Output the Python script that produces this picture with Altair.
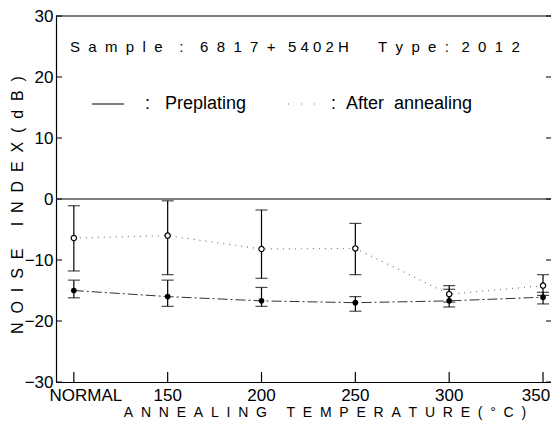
import altair as alt
import pandas as pd

# ---------------- data ----------------
categories = ["NORMAL", "150", "200", "250", "300", "350"]
x_index = [0, 1, 2, 3, 4, 5]
pre_mean = [-15.0, -16.0, -16.7, -17.0, -16.7, -16.1]
pre_hi = [-13.3, -13.3, -14.5, -16.0, -14.8, -15.3]
pre_lo = [-16.2, -17.6, -17.6, -18.4, -17.7, -17.2]
ann_mean = [-6.4, -6.0, -8.2, -8.1, -15.6, -14.2]
ann_hi = [-1.1, -0.3, -1.8, -4.0, -14.2, -12.4]
ann_lo = [-11.8, -12.4, -13.0, -12.4, -16.9, -15.8]
y_ticks = [-30, -20, -10, 0, 10, 20, 30]

FONT = "Liberation Sans"
NB = "\u00a0"
W, H = 495, 366


def sp(word, gap=2):
    return (NB * gap).join(list(word))


sample_text = (sp("Sample") + NB * 4 + ":" + NB * 4 + sp("6817") + NB * 2 + "+" + NB * 3
               + sp("5402H", 1) + NB * 7 + sp("Type") + NB * 2 + ":" + NB * 3 + sp("2012"))
x_title = sp("ANNEALING") + NB * 5 + sp("TEMPERATURE(°C)")
y_title = sp("NOISE") + NB * 5 + sp("INDEX(dB)")

df = pd.DataFrame({
    "x": x_index, "cat": categories,
    "pre": pre_mean, "pre_hi": pre_hi, "pre_lo": pre_lo,
    "ann": ann_mean, "ann_hi": ann_hi, "ann_lo": ann_lo,
})
caps = pd.DataFrame({
    "x": x_index * 4,
    "v": pre_hi + pre_lo + ann_hi + ann_lo,
})
yt = pd.DataFrame({"t": y_ticks})
one = pd.DataFrame({"k": [0]})
zero = pd.DataFrame({"z": [0]})

xs = alt.Scale(domain=[-0.19, 5.085], nice=False, zero=False)
ys = alt.Scale(domain=[-30, 30], nice=False, zero=False)

x_axis = alt.Axis(values=x_index, labels=False, ticks=False, grid=False,
                  domain=True, domainColor="black", domainWidth=1.2, title=None)
y_axis = alt.Axis(values=y_ticks, ticks=False, grid=False, domain=True,
                  domainColor="black", domainWidth=1.2, title=None,
                  labelFont=FONT, labelFontSize=17, labelColor="black",
                  labelPadding=3, labelFlush=False)


def X(field="x:Q"):
    return alt.X(field, scale=xs, axis=x_axis)


def Y(field):
    return alt.Y(field, scale=ys, axis=y_axis)


base = alt.Chart(df)

pre_line = base.mark_line(color="#333333", strokeWidth=1, strokeDash=[10, 3, 2, 3]).encode(
    x=X(), y=Y("pre:Q"))
ann_line = base.mark_line(color="#777777", strokeWidth=1.2, strokeDash=[1, 5]).encode(
    x=X(), y=Y("ann:Q"))

pre_bar = base.mark_rule(color="black", strokeWidth=1.2).encode(
    x=X(), y=Y("pre_hi:Q"), y2="pre_lo:Q")
ann_bar = base.mark_rule(color="black", strokeWidth=1.2).encode(
    x=X(), y=Y("ann_hi:Q"), y2="ann_lo:Q")
cap = alt.Chart(caps).mark_tick(orient="horizontal", size=12, thickness=1.2, color="black").encode(
    x=X(), y=Y("v:Q"))

pre_pts = base.mark_circle(color="black", size=32, opacity=1).encode(
    x=X(), y=Y("pre:Q"))
ann_pts = base.mark_point(shape="circle", fill="white", fillOpacity=1, stroke="black",
                          strokeWidth=1.2, size=28, opacity=1).encode(
    x=X(), y=Y("ann:Q"))


# x tick labels as text marks: first label sits right of its tick, last one is kept inside the view
def xlab(flt, dx):
    return base.transform_filter(flt).mark_text(
        align="center", baseline="top", font=FONT, fontSize=17, color="black", dx=dx).encode(
        x=X(), y=alt.value(H + 6), text="cat:N")


x_lab_first = xlab("datum.x == 0", 12)
x_lab_mid = xlab("datum.x > 0 && datum.x < 5", 0)
x_lab_last = xlab("datum.x == 5", -7)

zero_line = alt.Chart(zero).mark_rule(color="black", strokeWidth=1).encode(y=Y("z:Q"))
top_line = alt.Chart(one).mark_rule(color="black", strokeWidth=1).encode(
    x=alt.value(0), x2=alt.value(W), y=alt.value(0))

bottom_ticks = base.mark_rule(color="black", strokeWidth=1.2).encode(
    x=X(), y=alt.value(H), y2=alt.value(H - 10))
left_ticks = alt.Chart(yt).mark_rule(color="black", strokeWidth=1).encode(
    y=Y("t:Q"), x=alt.value(0), x2=alt.value(6))
right_ticks = alt.Chart(yt).mark_rule(color="black", strokeWidth=1).encode(
    y=Y("t:Q"), x=alt.value(W - 5), x2=alt.value(W))

sample = alt.Chart(one).mark_text(text=sample_text, align="left", baseline="middle",
                                  font=FONT, fontSize=15, color="black").encode(
    x=alt.value(14), y=alt.value(31))
leg_pre_line = alt.Chart(one).mark_rule(color="black", strokeWidth=1).encode(
    x=alt.value(36), x2=alt.value(68), y=alt.value(88))
leg_pre_text = alt.Chart(one).mark_text(text=":" + NB * 3 + "Preplating", align="left", baseline="middle",
                                        font=FONT, fontSize=18, color="black").encode(
    x=alt.value(89), y=alt.value(88))
leg_ann_line = alt.Chart(one).mark_rule(color="#777777", strokeWidth=1.2, strokeDash=[1, 12]).encode(
    x=alt.value(232), x2=alt.value(264), y=alt.value(88))
leg_ann_text = alt.Chart(one).mark_text(text=":" + NB * 2 + "After" + NB * 2 + "annealing", align="left",
                                        baseline="middle", font=FONT, fontSize=18, color="black").encode(
    x=alt.value(275), y=alt.value(88))

xt = alt.Chart(one).mark_text(text=x_title, align="center", baseline="middle",
                              font=FONT, fontSize=14, color="black").encode(
    x=alt.value(269), y=alt.value(397))
ytl = alt.Chart(one).mark_text(text=y_title, align="center", baseline="middle", angle=270,
                               font=FONT, fontSize=16, color="black").encode(
    x=alt.value(-38), y=alt.value(189))

chart = alt.layer(
    pre_line, ann_line, zero_line, top_line, bottom_ticks, left_ticks, right_ticks,
    pre_bar, ann_bar, cap, pre_pts, ann_pts, x_lab_first, x_lab_mid, x_lab_last,
    sample, leg_pre_line, leg_pre_text, leg_ann_line, leg_ann_text, xt, ytl,
).properties(
    width=W, height=H,
    background="white",
    autosize=alt.AutoSizeParams(type="none"),
    padding={"left": 48, "top": 8, "right": 0, "bottom": 39},
).configure_view(stroke=None)

chart.save("out.html", embed_options={"renderer": "svg", "actions": False})
